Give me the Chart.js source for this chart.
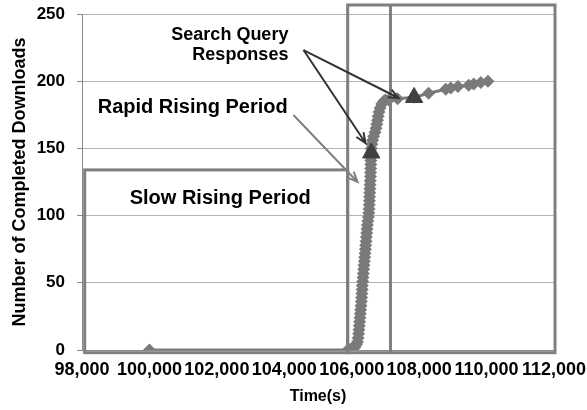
<!DOCTYPE html>
<html lang="en">
<head>
    <meta charset="UTF-8">
    <title>Completed Downloads</title>
    <script src="https://cdn.jsdelivr.net/npm/chart.js"></script>
    <style>
        html, body {
            margin: 0;
            padding: 0;
            background: #fff;
        }
        .chart-box {
            width: 587px;
            height: 410px;
        }
    </style>
</head>
<body>
    <div class="chart-box">
        <canvas id="chart"></canvas>
    </div>

    <script>
        // Completed downloads over time (dense during the rapid rise)
        const times = [100000, 105880, 105960, 106030, 106090, 106140, 106170, 106190, 106205, 106215,
            106225, 106235, 106245, 106255, 106265, 106275, 106285, 106295, 106300, 106310,
            106315, 106325, 106335, 106345, 106355, 106365, 106375, 106385, 106395, 106405,
            106415, 106425, 106435, 106445, 106455, 106465, 106480, 106495, 106505, 106515,
            106520, 106525, 106530, 106535, 106540, 106545, 106550, 106555, 106558, 106562,
            106565, 106568, 106571, 106574, 106580, 106600, 106620, 106650, 106690, 106720,
            106745, 106765, 106785, 106810, 106840, 106890, 106950, 107000, 107100, 107360,
            107850, 108280, 108790, 108940, 109150, 109470, 109620, 109830, 110040];
        const downloads = [0, 0, 0.5, 1, 2, 4, 6, 9, 12, 15,
            18, 21, 24, 27, 30, 33, 36, 39, 42, 45,
            48, 51, 54, 57, 60, 63, 66, 69, 72, 75,
            78, 81, 84, 87, 90, 93, 96, 99, 102, 105,
            108, 111, 114, 117, 120, 123, 126, 129, 132, 135,
            138, 141, 144, 147, 150, 153, 156, 159, 162, 165,
            168, 171, 174, 177, 180, 183, 185, 186, 186, 187,
            188, 191, 194, 195, 196, 197, 198, 199, 200];

        // Search query responses (triangles)
        const responseTimes = [106580, 107850];
        const responseCounts = [146.6, 187.9];

        const xTicks = [98000, 100000, 102000, 104000, 106000, 108000, 110000, 112000];
        const yTicks = [0, 50, 100, 150, 200, 250];

        // Annotations drawn in data units
        const boxes = [
            { x0: 98080, x1: 105880, y0: -2, y1: 134 },
            { x0: 105880, x1: 112030, y0: -2, y1: 256.7 }
        ];
        const dividerX = 107150;
        const arrows = [
            { from: [104570, 223.2], to: [106411, 154], color: '#333333' },
            { from: [104570, 223.2], to: [107392, 187.5], color: '#333333' },
            { from: [104271, 174.9], to: [106173, 125], color: '#7f7f7f' }
        ];
        const labels = [
            { text: 'Search Query', x: 104122, y: 234.4, size: 18, align: 'right' },
            { text: 'Responses', x: 104122, y: 219.5, size: 18, align: 'right' },
            { text: 'Rapid Rising Period', x: 101284, y: 180.8, size: 20, align: 'center' },
            { text: 'Slow Rising Period', x: 102101, y: 113.1, size: 20, align: 'center' }
        ];

        const fontFamily = '"Liberation Sans", Arial, sans-serif';

        const annotations = {
            id: 'annotations',
            afterDatasetsDraw(chart) {
                const ctx = chart.ctx;
                const xs = chart.scales.x;
                const ys = chart.scales.y;
                ctx.save();

                ctx.strokeStyle = '#7f7f7f';
                ctx.lineWidth = 3;
                boxes.forEach(b => {
                    const l = xs.getPixelForValue(b.x0), r = xs.getPixelForValue(b.x1);
                    const t = ys.getPixelForValue(b.y1), bt = ys.getPixelForValue(b.y0);
                    ctx.strokeRect(l, t, r - l, bt - t);
                });
                const dx = xs.getPixelForValue(dividerX);
                ctx.beginPath();
                ctx.moveTo(dx, ys.getPixelForValue(boxes[1].y1));
                ctx.lineTo(dx, ys.getPixelForValue(boxes[1].y0));
                ctx.stroke();

                arrows.forEach(a => {
                    const x1 = xs.getPixelForValue(a.from[0]), y1 = ys.getPixelForValue(a.from[1]);
                    const x2 = xs.getPixelForValue(a.to[0]), y2 = ys.getPixelForValue(a.to[1]);
                    const ang = Math.atan2(y2 - y1, x2 - x1);
                    ctx.strokeStyle = a.color;
                    ctx.lineWidth = 2;
                    ctx.beginPath();
                    ctx.moveTo(x1, y1);
                    ctx.lineTo(x2, y2);
                    ctx.moveTo(x2 - 11 * Math.cos(ang - 0.4), y2 - 11 * Math.sin(ang - 0.4));
                    ctx.lineTo(x2, y2);
                    ctx.lineTo(x2 - 11 * Math.cos(ang + 0.4), y2 - 11 * Math.sin(ang + 0.4));
                    ctx.stroke();
                });

                ctx.fillStyle = '#000';
                ctx.textBaseline = 'middle';
                labels.forEach(l => {
                    ctx.font = 'bold ' + l.size + 'px ' + fontFamily;
                    ctx.textAlign = l.align;
                    ctx.fillText(l.text, xs.getPixelForValue(l.x), ys.getPixelForValue(l.y));
                });
                ctx.restore();
            }
        };

        new Chart(document.getElementById('chart'), {
            type: 'scatter',
            data: {
                datasets: [{
                    label: 'Search Query Responses',
                    data: responseTimes.map((t, i) => ({ x: t, y: responseCounts[i] })),
                    pointStyle: 'triangle',
                    pointRadius: 10,
                    backgroundColor: '#404040',
                    borderColor: '#404040',
                    borderWidth: 1,
                    order: 0
                }, {
                    label: 'Completed Downloads',
                    data: times.map((t, i) => ({ x: t, y: downloads[i] })),
                    showLine: true,
                    borderColor: '#7a7a7a',
                    borderWidth: 3,
                    pointStyle: 'rectRot',
                    pointRadius: 6.5,
                    backgroundColor: '#7a7a7a',
                    pointBorderWidth: 0,
                    order: 1
                }]
            },
            options: {
                responsive: true,
                maintainAspectRatio: false,
                animation: false,
                events: [],
                layout: {
                    padding: { left: 4, right: 33, top: 14, bottom: 0 }
                },
                plugins: {
                    legend: { display: false },
                    tooltip: { enabled: false }
                },
                scales: {
                    x: {
                        type: 'linear',
                        min: xTicks[0],
                        max: xTicks[xTicks.length - 1],
                        afterBuildTicks: s => { s.ticks = xTicks.map(v => ({ value: v })); },
                        afterFit: s => {
                            s.height = 60;
                            s.paddingLeft = 0;
                            s.paddingRight = 0;
                        },
                        grid: { drawOnChartArea: false, drawTicks: false },
                        border: { color: '#888', width: 1 },
                        ticks: {
                            padding: 9,
                            color: '#000',
                            maxRotation: 0,
                            autoSkip: false,
                            font: { family: fontFamily, size: 18, weight: 'bold' },
                            callback: v => v.toLocaleString('en-US')
                        },
                        title: {
                            display: true,
                            text: 'Time(s)',
                            color: '#000',
                            padding: { top: 0, bottom: 4 },
                            font: { family: fontFamily, size: 16, weight: 'bold' }
                        }
                    },
                    y: {
                        min: yTicks[0],
                        max: yTicks[yTicks.length - 1],
                        afterBuildTicks: s => { s.ticks = yTicks.map(v => ({ value: v })); },
                        afterFit: s => {
                            s.width = 78;
                            s.paddingTop = 0;
                            s.paddingBottom = 0;
                        },
                        grid: { color: '#b3b3b3', tickLength: 5, tickColor: '#888' },
                        border: { color: '#888', width: 1 },
                        ticks: {
                            padding: 12,
                            color: '#000',
                            font: { family: fontFamily, size: 17, weight: 'bold' }
                        },
                        title: {
                            display: true,
                            text: 'Number of Completed Downloads',
                            color: '#000',
                            padding: { top: 5, bottom: 0 },
                            font: { family: fontFamily, size: 18, weight: 'bold' }
                        }
                    }
                }
            },
            plugins: [annotations]
        });
    </script>
</body>
</html>
